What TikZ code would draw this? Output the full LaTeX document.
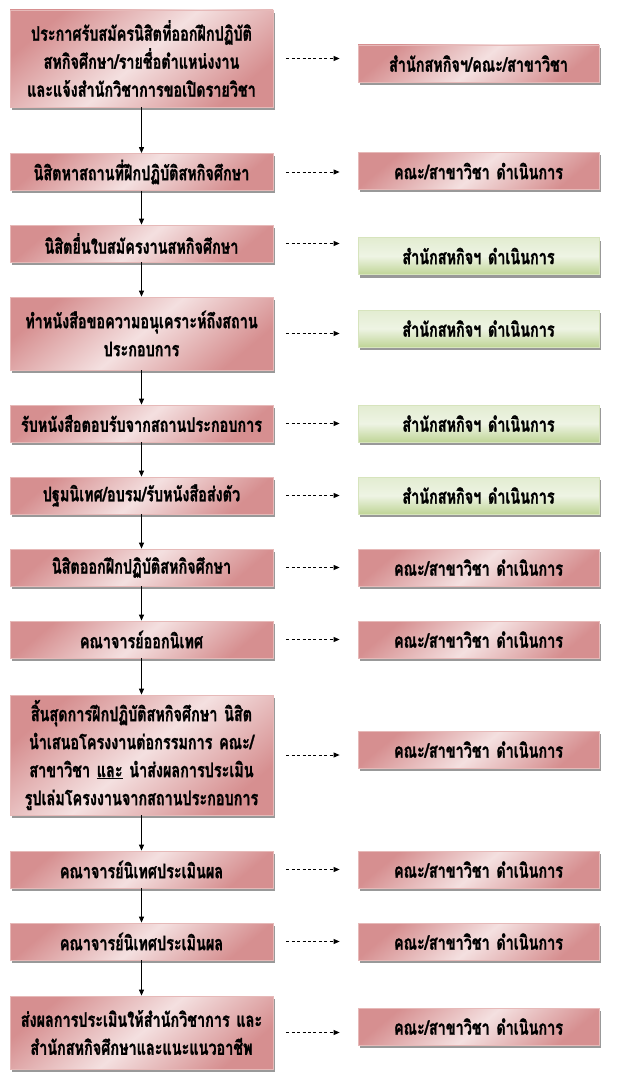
\documentclass[tikz,border=0pt]{standalone}
\usepackage{fontspec}
\newfontfamily\thaifont[Script=Thai,FakeStretch=0.72,BoldFeatures={FakeBold=1.2}]{Loma}
\usepackage{xcolor}
\usepackage{tikz}
\usetikzlibrary{positioning,arrows.meta,shadows}

\definecolor{reddark}{HTML}{D68F90}
\definecolor{redlight}{HTML}{F4E0E0}
\definecolor{redline}{HTML}{E6B9B8}
\definecolor{greendark}{HTML}{C0D597}
\definecolor{greenlight}{HTML}{EEF4E4}
\definecolor{greenline}{HTML}{D7E4BD}

\begin{document}
\begin{tikzpicture}[x=1pt,y=-1pt,
    font=\thaifont\bfseries\fontsize{20}{28}\selectfont,
    redbox/.style={draw=redline,line width=0.8pt,shading=axis,
      top color=reddark,bottom color=reddark,middle color=redlight,
      shading angle=40,inner sep=0pt,align=center,
      drop shadow={shadow xshift=2pt,shadow yshift=-3pt,fill=black!40,opacity=1}},
    greenbox/.style={redbox,draw=greenline,
      top color=greenlight!75!greendark,bottom color=greendark,middle color=greenlight},
    leftbox/.style={redbox,minimum width=263pt,text width=255pt},
    rightbox/.style={minimum width=241pt,minimum height=37pt,text width=235pt},
    flow/.style={-{Triangle[length=6pt,width=5pt]},line width=1.1pt},
    dasharrow/.style={-{Triangle[length=6pt,width=5pt]},line width=0.9pt,
      dash pattern=on 3pt off 2.4pt,shorten <=13pt,shorten >=18pt}]
  \fill[white] (0,0) rectangle (621,1086);
  \useasboundingbox (0,0) rectangle (621,1086);

  % left column
  \node[leftbox,minimum height=97pt] (l1) at (141.5,58.5)
    {ประกาศรับสมัครนิสิตที่ออกฝึกปฏิบัติ\\สหกิจศึกษา/รายชื่อตำแหน่งงาน\\และแจ้งสำนักวิชาการขอเปิดรายวิชา};
  \node[leftbox,minimum height=37pt] (l2) at (141.5,172) {นิสิตหาสถานที่ฝึกปฏิบัติสหกิจศึกษา};
  \node[leftbox,minimum height=37pt] (l3) at (141.5,243.5) {นิสิตยื่นใบสมัครงานสหกิจศึกษา};
  \node[leftbox,minimum height=73pt] (l4) at (141.5,333.5)
    {ทำหนังสือขอความอนุเคราะห์ถึงสถาน\\ประกอบการ};
  \node[leftbox,minimum height=37pt] (l5) at (141.5,423.5) {รับหนังสือตอบรับจากสถานประกอบการ};
  \node[leftbox,minimum height=37pt] (l6) at (141.5,495.5) {ปฐมนิเทศ/อบรม/รับหนังสือส่งตัว};
  \node[leftbox,minimum height=37pt] (l7) at (141.5,567.5) {นิสิตออกฝึกปฏิบัติสหกิจศึกษา};
  \node[leftbox,minimum height=37pt] (l8) at (141.5,639.5) {คณาจารย์ออกนิเทศ};
  \node[leftbox,minimum height=120pt] (l9) at (141.5,755)
    {สิ้นสุดการฝึกปฏิบัติสหกิจศึกษา นิสิต\\นำเสนอโครงงานต่อกรรมการ คณะ/\\สาขาวิชา \underline{และ} นำส่งผลการประเมิน\\รูปเล่มโครงงานจากสถานประกอบการ};
  \node[leftbox,minimum height=37pt] (l10) at (141.5,869.5) {คณาจารย์นิเทศประเมินผล};
  \node[leftbox,minimum height=37pt] (l11) at (141.5,941.5) {คณาจารย์นิเทศประเมินผล};
  \node[leftbox,minimum height=73pt] (l12) at (141.5,1032.5)
    {ส่งผลการประเมินให้สำนักวิชาการ และ\\สำนักสหกิจศึกษาและแนะแนวอาชีพ};

  % right column
  \node[redbox,rightbox] (r1) at (478.5,63.5) {สำนักสหกิจฯ/คณะ/สาขาวิชา};
  \node[redbox,rightbox] (r2) at (478.5,171) {คณะ/สาขาวิชา ดำเนินการ};
  \node[greenbox,rightbox] (r3) at (478.5,256) {สำนักสหกิจฯ ดำเนินการ};
  \node[greenbox,rightbox] (r4) at (478.5,328.5) {สำนักสหกิจฯ ดำเนินการ};
  \node[greenbox,rightbox] (r5) at (478.5,423.5) {สำนักสหกิจฯ ดำเนินการ};
  \node[greenbox,rightbox] (r6) at (478.5,495.5) {สำนักสหกิจฯ ดำเนินการ};
  \node[redbox,rightbox] (r7) at (478.5,567.5) {คณะ/สาขาวิชา ดำเนินการ};
  \node[redbox,rightbox] (r8) at (478.5,639.5) {คณะ/สาขาวิชา ดำเนินการ};
  \node[redbox,rightbox] (r9) at (478.5,749.5) {คณะ/สาขาวิชา ดำเนินการ};
  \node[redbox,rightbox] (r10) at (478.5,869.5) {คณะ/สาขาวิชา ดำเนินการ};
  \node[redbox,rightbox] (r11) at (478.5,941.5) {คณะ/สาขาวิชา ดำเนินการ};
  \node[redbox,rightbox] (r12) at (478.5,1026.5) {คณะ/สาขาวิชา ดำเนินการ};

  % connectors
  \foreach \i/\j in {1/2,2/3,3/4,4/5,5/6,6/7,7/8,8/9,9/10,10/11,11/12}
    \draw[flow] (l\i) -- (l\j);
  \foreach \i in {1,...,12}
    \draw[dasharrow] (l\i.east) -- (l\i.east -| r\i.west);
\end{tikzpicture}
\end{document}
